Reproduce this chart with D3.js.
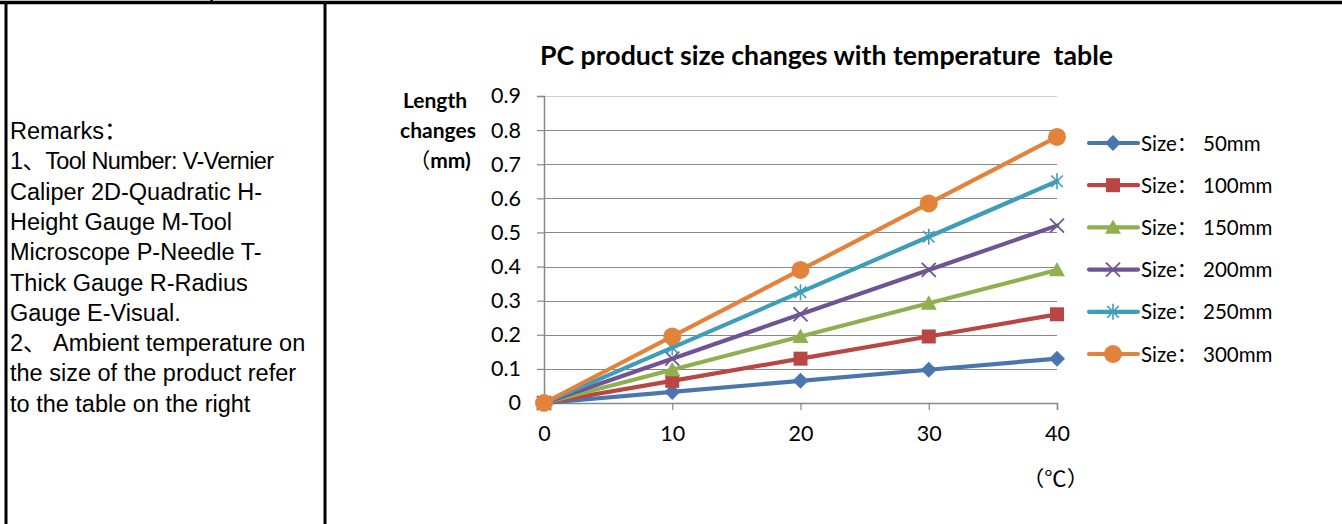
<!DOCTYPE html>
<html>
<head>
<meta charset="utf-8">
<script src="https://cdn.jsdelivr.net/npm/d3@7"></script>
<style>
html,body{margin:0;padding:0;background:#fff;}
svg{display:block;}
text{white-space:pre;}
</style>
</head>
<body>
<svg id="chart" width="1342" height="524"></svg>
<script>
// ---- data ----
const temps = [0, 10, 20, 30, 40];
const xTicks = [0, 10, 20, 30, 40];
const yTicks = [0, 0.1, 0.2, 0.3, 0.4, 0.5, 0.6, 0.7, 0.8, 0.9];
const seriesNames = ["Size：", "Size：", "Size：", "Size：", "Size：", "Size："];
const seriesSizes = ["50mm", "100mm", "150mm", "200mm", "250mm", "300mm"];
const size50  = [0, 0.0325, 0.065, 0.0975, 0.13];
const size100 = [0, 0.065, 0.13, 0.195, 0.26];
const size150 = [0, 0.0975, 0.195, 0.2925, 0.39];
const size200 = [0, 0.13, 0.26, 0.39, 0.52];
const size250 = [0, 0.1625, 0.325, 0.4875, 0.65];
const size300 = [0, 0.195, 0.39, 0.585, 0.78];
const seriesValues = [size50, size100, size150, size200, size250, size300];
const remarks = [
  "Remarks：",
  "1、Tool Number: V-Vernier",
  "Caliper 2D-Quadratic H-",
  "Height Gauge M-Tool",
  "Microscope P-Needle T-",
  "Thick Gauge R-Radius",
  "Gauge E-Visual.",
  "2、 Ambient temperature on",
  "the size of the product refer",
  "to the table on the right"
];
const titleText = "PC product size changes with temperature  table";
const yTitle = ["Length", "changes", "（mm)"];
const xTitle = "（℃）";

// ---- style ----
const colors = ["#4A76AE", "#B94643", "#8FB04F", "#6F5495", "#3E9DB8", "#E3823A"];
const markers = ["diamond", "square", "triangle", "cross", "asterisk", "circle"];

const svg = d3.select("#chart");

// table borders
const frame = svg.append("g").attr("stroke", "#000").attr("fill", "none");
frame.append("line").attr("x1", 0).attr("x2", 1342).attr("y1", 2.5).attr("y2", 2.5).attr("stroke-width", 3.5);
frame.append("line").attr("x1", 211.5).attr("x2", 211.5).attr("y1", 0).attr("y2", 4).attr("stroke-width", 2.5);
frame.append("line").attr("x1", 6).attr("x2", 6).attr("y1", 1).attr("y2", 524).attr("stroke-width", 3);
frame.append("line").attr("x1", 325).attr("x2", 325).attr("y1", 1).attr("y2", 524).attr("stroke-width", 3);

// remarks text
svg.append("g").selectAll("text").data(remarks).join("text")
  .attr("x", 10)
  .attr("y", (d, i) => 139 + i * 30.3)
  .attr("font-family", "'Liberation Sans', Arial, 'Noto Sans CJK SC', sans-serif")
  .attr("font-size", 23.5)
  .attr("fill", "#000")
  .each(function(d, i) { if (i === 1) d3.select(this).attr("textLength", 264).attr("lengthAdjust", "spacing"); })
  .text(d => d);

// scales
const x = d3.scaleLinear().domain([0, 40]).range([544, 1057]);
const y = d3.scaleLinear().domain([0, 0.9]).range([403, 96]);

const font = "Lato, 'Noto Sans', sans-serif";

// title
svg.append("text")
  .attr("x", 540).attr("y", 65)
  .attr("textLength", 573).attr("lengthAdjust", "spacingAndGlyphs")
  .attr("font-family", font)
  .attr("font-weight", "bold")
  .attr("font-size", 26)
  .attr("fill", "#000")
  .text(titleText);

// gridlines
svg.append("g").selectAll("line").data(yTicks.filter(d => d > 0)).join("line")
  .attr("x1", x(0)).attr("x2", x(40))
  .attr("y1", d => Math.round(y(d)) + 0.5).attr("y2", d => Math.round(y(d)) + 0.5)
  .attr("stroke", (d, i, a) => i === a.length - 1 ? "#cfcfcf" : "#878787")
  .attr("stroke-width", 1.2);

// y axis
const yAxis = d3.axisLeft(y).tickValues(yTicks).tickSize(7).tickPadding(16)
  .tickFormat(d => d === 0 ? "0" : d3.format(".1f")(d));
const gy = svg.append("g").attr("transform", `translate(${x(0)},0)`).call(yAxis);
gy.select(".domain").attr("stroke", "#878787").attr("stroke-width", 1.5);
gy.selectAll(".tick line").attr("stroke", "#878787").attr("stroke-width", 1.2);
gy.selectAll(".tick text").attr("font-family", font).attr("font-size", 21.5).attr("fill", "#000");

// x axis
const xAxis = d3.axisBottom(x).tickValues(xTicks).tickSize(7).tickPadding(16);
const gx = svg.append("g").attr("transform", `translate(0,${y(0)})`).call(xAxis);
gx.select(".domain").attr("stroke", "#878787").attr("stroke-width", 1.5);
gx.selectAll(".tick line").attr("stroke", "#878787").attr("stroke-width", 1.2);
gx.selectAll(".tick text").attr("font-family", font).attr("font-size", 21.5).attr("fill", "#000");

// axis titles
const yt = svg.append("g").selectAll("text").data(yTitle).join("text")
  .attr("x", (d, i) => [435, 438, 440][i]).attr("y", (d, i) => 108 + i * 30)
  .attr("text-anchor", "middle")
  .attr("font-family", font)
  .attr("font-weight", "bold")
  .attr("font-size", 21)
  .attr("fill", "#000");
yt.each(function(d) {
  const t = d3.select(this);
  if (d.startsWith("（")) {
    t.append("tspan").attr("font-family", "'Noto Sans CJK SC', sans-serif").attr("font-weight", "normal").text("（");
    t.append("tspan").text(d.slice(1));
  } else {
    t.text(d);
  }
});

svg.append("text")
  .attr("x", 1022).attr("y", 486)
  .attr("textLength", 67).attr("lengthAdjust", "spacingAndGlyphs")
  .attr("font-family", "'Noto Sans CJK SC', sans-serif")
  .attr("font-size", 21)
  .attr("fill", "#000")
  .text(xTitle);

// marker drawing
function drawMarker(g, type, color, cx, cy) {
  if (type === "diamond") {
    const r = 8;
    g.append("path").attr("d", `M${cx},${cy - r}L${cx + r},${cy}L${cx},${cy + r}L${cx - r},${cy}Z`).attr("fill", color);
  } else if (type === "square") {
    const s = 14;
    g.append("rect").attr("x", cx - s / 2).attr("y", cy - s / 2).attr("width", s).attr("height", s).attr("fill", color);
  } else if (type === "triangle") {
    const r = 8;
    g.append("path").attr("d", `M${cx},${cy - r}L${cx + r},${cy + r * 0.8}L${cx - r},${cy + r * 0.8}Z`).attr("fill", color);
  } else if (type === "cross") {
    const r = 7;
    g.append("path").attr("d", `M${cx - r},${cy - r}L${cx + r},${cy + r}M${cx - r},${cy + r}L${cx + r},${cy - r}`)
      .attr("stroke", color).attr("stroke-width", 1.8).attr("fill", "none");
  } else if (type === "asterisk") {
    const r = 8;
    const d = r * 0.72;
    g.append("path").attr("d", `M${cx - d},${cy - d}L${cx + d},${cy + d}M${cx - d},${cy + d}L${cx + d},${cy - d}M${cx},${cy - r}L${cx},${cy + r}`)
      .attr("stroke", color).attr("stroke-width", 1.6).attr("fill", "none");
  } else if (type === "circle") {
    g.append("circle").attr("cx", cx).attr("cy", cy).attr("r", 9).attr("fill", color);
  }
}

// series
const line = d3.line().x((d, i) => x(temps[i])).y(d => y(d));
seriesValues.forEach((vals, si) => {
  const g = svg.append("g");
  g.append("path").datum(vals).attr("d", line)
    .attr("fill", "none").attr("stroke", colors[si]).attr("stroke-width", 4.2)
    .attr("stroke-linejoin", "round").attr("stroke-linecap", "round");
  vals.forEach((v, i) => drawMarker(g, markers[si], colors[si], x(temps[i]), y(v)));
});

// legend
const legendY = d3.scaleLinear().domain([0, 5]).range([143, 354]);
seriesNames.forEach((name, si) => {
  const g = svg.append("g");
  const ly = legendY(si);
  g.append("line").attr("x1", 1089).attr("x2", 1138).attr("y1", ly).attr("y2", ly)
    .attr("stroke", colors[si]).attr("stroke-width", 4.2).attr("stroke-linecap", "round");
  drawMarker(g, markers[si], colors[si], 1113, ly);
  const t = g.append("text").attr("y", ly + 7.5)
    .attr("font-family", font + ", 'Noto Sans CJK SC'")
    .attr("font-size", 20.5).attr("fill", "#000");
  t.append("tspan").attr("x", 1141).text(name);
  t.append("tspan").attr("x", 1203).text(seriesSizes[si]);
});
</script>
</body>
</html>
